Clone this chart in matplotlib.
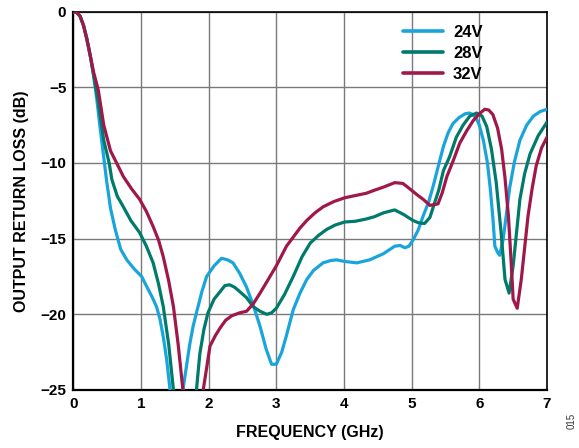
import matplotlib
matplotlib.use("Agg")
import matplotlib.pyplot as plt

# Frequency (GHz) and output return loss (dB) for each supply voltage
freq_24v = [0.0, 0.05, 0.1, 0.15, 0.2, 0.25, 0.3, 0.35, 0.4, 0.46, 0.49, 0.55, 0.62, 0.7, 0.79, 0.9, 1.01, 1.1,
            1.17, 1.23, 1.28, 1.33, 1.38, 1.43, 1.52, 1.62, 1.67, 1.72, 1.77, 1.82, 1.9, 1.97, 2.08, 2.19, 2.28, 2.36,
            2.46, 2.56, 2.66, 2.76, 2.85, 2.93, 3.0, 3.08, 3.15, 3.25, 3.35, 3.45, 3.55, 3.69, 3.8, 3.89, 4.0, 4.19,
            4.38, 4.58, 4.75, 4.83, 4.9, 4.96, 5.02, 5.1, 5.17, 5.25, 5.32, 5.4, 5.47, 5.54, 5.61, 5.7, 5.79, 5.85,
            5.91, 5.96, 6.0, 6.06, 6.12, 6.16, 6.2, 6.23, 6.27, 6.3, 6.35, 6.4, 6.45, 6.52, 6.6, 6.7, 6.8, 6.9, 7.0]
rl_24v = [0.0, -0.05, -0.3, -0.9, -1.8, -2.9, -4.2, -5.9, -7.8, -10.0, -11.1, -13.0, -14.4, -15.7, -16.4, -17.0,
          -17.5, -18.3, -18.9, -19.5, -20.3, -21.5, -23.0, -25.0, -29.0, -25.0, -23.5, -22.0, -20.8, -19.9, -18.5,
          -17.5, -16.8, -16.3, -16.4, -16.6, -17.3, -18.2, -19.4, -20.8, -22.3, -23.3, -23.3, -22.5, -21.4, -19.7,
          -18.6, -17.7, -17.1, -16.6, -16.45, -16.4, -16.5, -16.6, -16.4, -16.0, -15.5, -15.45, -15.6, -15.5, -15.1,
          -14.4, -13.5, -12.6, -11.5, -10.1, -8.9, -8.0, -7.4, -7.0, -6.75, -6.7, -6.8, -7.1, -7.5, -8.5, -10.0,
          -11.6, -13.6, -15.5, -15.9, -16.1, -15.1, -13.4, -11.6, -9.9, -8.5, -7.5, -6.9, -6.6, -6.45]

freq_28v = [0.0, 0.05, 0.1, 0.15, 0.2, 0.25, 0.3, 0.37, 0.45, 0.53, 0.57, 0.65, 0.74, 0.85, 0.98, 1.08, 1.18, 1.26,
            1.33, 1.41, 1.48, 1.56, 1.65, 1.74, 1.82, 1.87, 1.93, 1.99, 2.08, 2.17, 2.24, 2.31, 2.38, 2.46, 2.56, 2.66,
            2.76, 2.86, 2.93, 3.0, 3.12, 3.25, 3.38, 3.5, 3.62, 3.74, 3.87, 4.01, 4.17, 4.33, 4.45, 4.58, 4.75, 4.88,
            5.02, 5.1, 5.19, 5.27, 5.32, 5.4, 5.47, 5.56, 5.66, 5.76, 5.86, 5.96, 6.04, 6.11, 6.18, 6.25, 6.32, 6.38,
            6.44, 6.5, 6.55, 6.6, 6.67, 6.75, 6.87, 7.0]
rl_28v = [0.0, -0.05, -0.3, -0.9, -1.8, -2.9, -4.2, -6.0, -8.5, -10.0, -11.1, -12.2, -12.9, -13.8, -14.6, -15.5,
          -16.6, -18.0, -19.5, -22.0, -25.0, -29.0, -31.0, -28.5, -25.0, -22.6, -21.0, -19.9, -19.0, -18.5, -18.1,
          -18.05, -18.2, -18.5, -18.9, -19.5, -19.8, -20.0, -19.9, -19.6, -18.7, -17.5, -16.2, -15.3, -14.8, -14.4,
          -14.1, -13.9, -13.85, -13.7, -13.55, -13.3, -13.1, -13.4, -13.8, -13.95, -14.0, -13.6, -12.9, -11.8,
          -10.5, -9.6, -8.3, -7.5, -6.9, -6.7, -6.9, -7.6, -9.1, -11.3, -14.5, -17.7, -18.6, -16.8, -14.6, -12.4,
          -10.7, -9.4, -8.2, -7.3]

freq_32v = [0.0, 0.05, 0.1, 0.15, 0.2, 0.25, 0.3, 0.37, 0.45, 0.55, 0.64, 0.74, 0.86, 0.98, 1.08, 1.18, 1.26, 1.33,
            1.41, 1.48, 1.55, 1.62, 1.7, 1.78, 1.86, 1.92, 2.02, 2.1, 2.17, 2.25, 2.34, 2.46, 2.56, 2.66, 2.76, 2.88,
            3.0, 3.15, 3.25, 3.35, 3.45, 3.57, 3.69, 3.85, 4.01, 4.17, 4.33, 4.45, 4.58, 4.75, 4.87, 4.97, 5.08, 5.17,
            5.27, 5.34, 5.39, 5.45, 5.52, 5.61, 5.71, 5.81, 5.91, 6.0, 6.08, 6.14, 6.2, 6.27, 6.33, 6.38, 6.43, 6.47,
            6.5, 6.56, 6.62, 6.67, 6.72, 6.78, 6.84, 6.92, 7.0]
rl_32v = [0.0, -0.05, -0.3, -0.9, -1.8, -2.9, -4.0, -5.2, -7.5, -9.2, -10.0, -10.9, -11.7, -12.4, -13.2, -14.2,
          -15.1, -16.2, -17.8, -19.5, -22.0, -25.0, -28.5, -30.5, -28.0, -25.0, -22.1, -21.4, -20.9, -20.4, -20.1,
          -19.9, -19.8, -19.3, -18.6, -17.7, -16.8, -15.5, -14.9, -14.3, -13.8, -13.3, -12.9, -12.55, -12.3, -12.15,
          -12.0, -11.8, -11.6, -11.3, -11.35, -11.7, -12.1, -12.4, -12.8, -12.75, -12.7, -12.0, -10.9, -9.9, -8.7,
          -7.9, -7.2, -6.75, -6.45, -6.5, -6.8, -7.7, -9.1, -11.0, -13.5, -16.5, -19.0, -19.6, -17.7, -15.6, -13.5,
          -11.7, -10.2, -9.0, -8.3]

series_labels = ["24V", "28V", "32V"]
series_colors = ["#19A5DB", "#007A6C", "#A0184A"]

x_ticks = [0, 1, 2, 3, 4, 5, 6, 7]
y_ticks = [0, -5, -10, -15, -20, -25]
y_tick_labels = ["0", "\u22125", "\u221210", "\u221215", "\u221220", "\u221225"]

plt.rcParams['font.family'] = ['Liberation Sans', 'DejaVu Sans']

fig = plt.figure(figsize=(5.79, 4.48), dpi=100)
ax = fig.add_axes([0.1266, 0.1295, 0.9447 - 0.1266, 0.974 - 0.1295])

for fx, fy, lab, col in zip([freq_24v, freq_28v, freq_32v], [rl_24v, rl_28v, rl_32v],
                            series_labels, series_colors):
    ax.plot(fx, fy, color=col, lw=2.3, label=lab, solid_joinstyle='round',
            solid_capstyle='round', zorder=3)

ax.set_xlim(0, 7)
ax.set_ylim(-25, 0)
ax.set_xticks(x_ticks)
ax.set_yticks(y_ticks)
ax.set_yticklabels(y_tick_labels)
ax.grid(True, color="#7a7a7a", lw=1.0)
ax.set_axisbelow(True)
ax.tick_params(length=0, labelsize=11, pad=5)
for lbl in ax.get_xticklabels() + ax.get_yticklabels():
    lbl.set_fontweight('bold')
for side in ['left', 'bottom']:
    ax.spines[side].set_linewidth(1.6)
for side in ['top', 'right']:
    ax.spines[side].set_linewidth(1.2)

ax.set_xlabel("FREQUENCY (GHz)", fontsize=11.5, fontweight='bold', labelpad=10)
ax.set_ylabel("OUTPUT RETURN LOSS (dB)", fontsize=11.5, fontweight='bold', labelpad=8)

leg = ax.legend(loc='upper left', frameon=False, prop={'weight': 'bold', 'size': 12},
                handlelength=2.4, handletextpad=0.6, labelspacing=0.38, borderaxespad=0,
                borderpad=0, bbox_to_anchor=(0.696, 0.966))
for h in leg.get_lines():
    h.set_linewidth(2.6)

fig.text(0.987, 0.06, "015", rotation=90, fontsize=7, ha='center', va='center', color="#333333")

fig.savefig("out.png", dpi=100)
